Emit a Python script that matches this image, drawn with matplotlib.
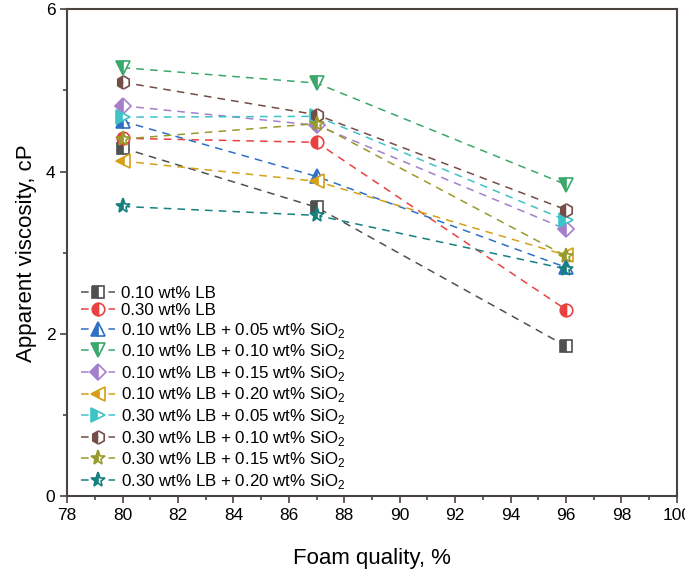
import matplotlib.pyplot as plt
from matplotlib.ticker import MultipleLocator

plt.rcParams['font.family'] = ['Liberation Sans', 'DejaVu Sans']
plt.rcParams['mathtext.fontset'] = 'custom'
plt.rcParams['mathtext.rm'] = 'Liberation Sans'

foam_quality = [80, 87, 96]

lb010 = [4.29, 3.56, 1.85]
lb030 = [4.41, 4.36, 2.30]
lb010_si005 = [4.62, 3.94, 2.82]
lb010_si010 = [5.28, 5.09, 3.84]
lb010_si015 = [4.81, 4.57, 3.29]
lb010_si020 = [4.13, 3.88, 2.97]
lb030_si005 = [4.67, 4.68, 3.40]
lb030_si010 = [5.10, 4.70, 3.53]
lb030_si015 = [4.40, 4.59, 2.96]
lb030_si020 = [3.57, 3.46, 2.80]

labels = [
    "0.10 wt% LB",
    "0.30 wt% LB",
    "0.10 wt% LB + 0.05 wt% SiO$_2$",
    "0.10 wt% LB + 0.10 wt% SiO$_2$",
    "0.10 wt% LB + 0.15 wt% SiO$_2$",
    "0.10 wt% LB + 0.20 wt% SiO$_2$",
    "0.30 wt% LB + 0.05 wt% SiO$_2$",
    "0.30 wt% LB + 0.10 wt% SiO$_2$",
    "0.30 wt% LB + 0.15 wt% SiO$_2$",
    "0.30 wt% LB + 0.20 wt% SiO$_2$",
]
series = [lb010, lb030, lb010_si005, lb010_si010, lb010_si015,
          lb010_si020, lb030_si005, lb030_si010, lb030_si015, lb030_si020]
colors = ["#505050", "#e8413f", "#2f6fc4", "#3aa86a", "#a57fc9",
          "#d4a016", "#3ec3c9", "#744d47", "#999a2c", "#16807f"]
markers = ["s", "o", "^", "v", "D", "<", ">", "h", "*", "*"]
sizes = [8, 9, 9.5, 9.5, 8, 9.5, 9.5, 9.5, 11, 11]

fig = plt.figure(figsize=(6.85, 5.75), dpi=100)
ax = fig.add_axes([0.098, 0.137, 0.890, 0.847])

for y, lab, c, m, s in zip(series, labels, colors, markers, sizes):
    ax.plot(foam_quality, y, linestyle=(0, (5, 4)), linewidth=1.1, color=c,
            marker=m, markersize=s, fillstyle='left', markerfacecolor=c,
            markerfacecoloralt='white', markeredgecolor=c, markeredgewidth=1.2,
            label=lab)

ax.set_xlim(78, 100)
ax.set_ylim(0, 6)
ax.xaxis.set_major_locator(MultipleLocator(2))
ax.xaxis.set_minor_locator(MultipleLocator(1))
ax.yaxis.set_major_locator(MultipleLocator(2))
ax.yaxis.set_minor_locator(MultipleLocator(1))
ax.tick_params(which='both', direction='out', labelsize=12.5, color='#4a4340')
ax.tick_params(which='major', length=5, width=1.2)
ax.tick_params(which='minor', length=3, width=1.2)
for sp in ax.spines.values():
    sp.set_linewidth(1.5)
    sp.set_color('#4a4340')

ax.set_xlabel("Foam quality, %", fontsize=16, labelpad=18)
ax.set_ylabel("Apparent viscosity, cP", fontsize=16, labelpad=6)

ax.legend(loc='upper left', bbox_to_anchor=(0.0, 0.46), frameon=False,
          fontsize=12.2, handlelength=2.0, handletextpad=0.35,
          labelspacing=0.15, borderaxespad=0.4)

fig.savefig("out.png", dpi=100)
